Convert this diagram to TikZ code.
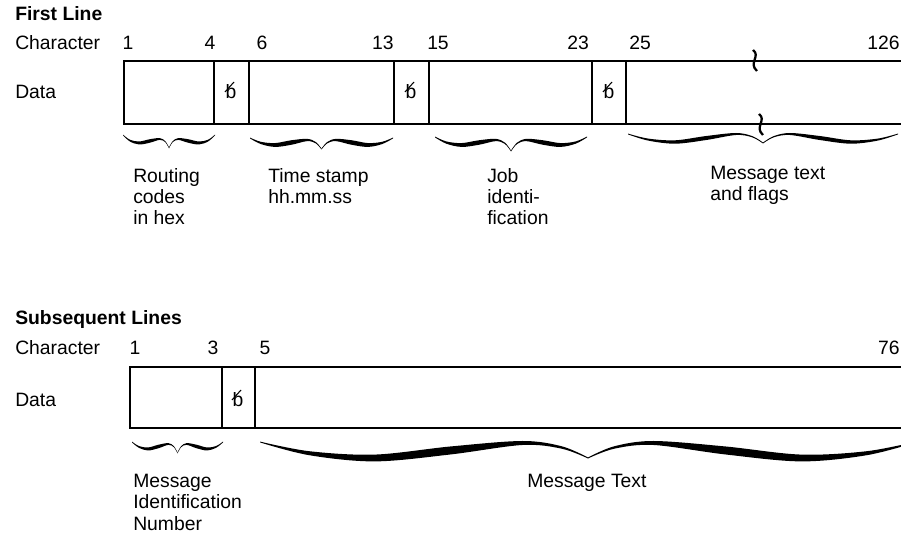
\documentclass[tikz,border=0pt]{standalone}
\usepackage{fontspec}
\setmainfont{Liberation Sans}
\usetikzlibrary{calc}
\newcommand\halfbr[8]{% x0 dir y0 hw D L H T
\fill plot[smooth,tension=0.55] coordinates {
 ({#1},{#3-0.4})
 ({#1+(#2)*0.15*(#4)},{#3+0.7*(#6)-0.25*(#8)})
 ({#1+(#2)*0.35*(#4)},{#3+(#6)-0.425*(#8)})
 ({#1+(#2)*0.58*(#4)},{#3+0.5*(#6)+0.5*(#7)-0.5*(#8)})
 ({#1+(#2)*0.8*(#4)},{#3+(#7)-0.25*(#8)})
 ({#1+(#2)*0.92*(#4)},{#3+(#7)+0.3*((#5)-(#7))-0.15*(#8)})
 ({#1+(#2)*(#4)},{#3+(#5)-0.5})}
 -- plot[smooth,tension=0.55] coordinates {
 ({#1+(#2)*(#4)},{#3+(#5)+0.5})
 ({#1+(#2)*0.92*(#4)},{#3+(#7)+0.3*((#5)-(#7))+0.15*(#8)})
 ({#1+(#2)*0.8*(#4)},{#3+(#7)+0.25*(#8)})
 ({#1+(#2)*0.58*(#4)},{#3+0.5*(#6)+0.5*(#7)+0.5*(#8)})
 ({#1+(#2)*0.35*(#4)},{#3+(#6)+0.425*(#8)})
 ({#1+(#2)*0.15*(#4)},{#3+0.7*(#6)+0.25*(#8)})
 ({#1},{#3+0.4})} -- cycle;}
\newcommand\mybrace[7]{% x1 x2 y D L H T
 \pgfmathsetmacro\brhw{((#2)-(#1))/2}%
 \halfbr{#1}{1}{#3}{\brhw}{#4}{#5}{#6}{#7}%
 \halfbr{#2}{-1}{#3}{\brhw}{#4}{#5}{#6}{#7}}
\tikzset{
 lbl/.style={font=\fontsize{14.5}{16}\selectfont, inner sep=0pt},
 head/.style={font=\fontsize{14.5}{16}\selectfont\bfseries, inner sep=0pt},
 para/.style={lbl, align=left, anchor=north west},
 outer/.style={line width=1.9pt},
 divider/.style={line width=1.2pt},
 slash/.style={line width=0.8pt},
 breakmark/.style={line width=1.7pt},
}
\begin{document}
\begin{tikzpicture}[x=0.75pt,y=-0.75pt]
\useasboundingbox (0,0) rectangle (901,541);
\clip (0,0) rectangle (901,541);
\fill[white] (0,0) rectangle (901,541);

% ---------- First line ----------
\node[head,anchor=west] (fl) at (15,14) {First Line};
\node[lbl,anchor=west] (ch1) at (15,43) {Character};
\node[lbl,anchor=west] (da1) at (15,92) {Data};
\node[lbl] (t1) at (128,43) {1};
\node[lbl] (t4) at (210,43) {4};
\node[lbl] (t6) at (262,43) {6};
\node[lbl] (t13) at (383,43) {13};
\node[lbl] (t15) at (438,43) {15};
\node[lbl] (t23) at (578,43) {23};
\node[lbl] (t25) at (640,43) {25};
\node[lbl,anchor=east] (t126) at (900,43) {126};

\draw[outer] (910,61) -- (124,61) -- (124,124) -- (910,124);
\foreach \x in {214,249,394,429,592,626} \draw[divider] (\x,61) -- (\x,124);

\node[lbl] (b1) at (231,92) {b};
\node[lbl] (b2) at (411,92) {b};
\node[lbl] (b3) at (609,92) {b};
\foreach \b in {b1,b2,b3} \draw[slash] ($(\b.center)+(3,-10)$) -- ($(\b.center)+(-6,0)$);

\draw[breakmark] (753,50) .. controls (761,56) and (748,63) .. (757,71);
\draw[breakmark] (759,114) .. controls (767,120) and (754,127) .. (763,135);

\mybrace{123}{215}{135}{13}{8}{4}{3.5}
\mybrace{250}{393}{138}{11}{7}{2}{4.5}
\mybrace{435}{587}{137}{14}{8}{3}{4.5}
\mybrace{628}{898}{134}{9}{8}{0}{4}

\node[para] (routing) at (133,168) {Routing\\codes\\in hex};
\node[para] (time) at (268,168) {Time stamp\\hh.mm.ss};
\node[para] (job) at (487,168) {Job\\identi-\\fication};
\node[para] (msg1) at (710,166) {Message text\\and flags};

% ---------- Subsequent lines ----------
\node[head,anchor=west] (sl) at (15,320) {Subsequent Lines};
\node[lbl,anchor=west] (ch2) at (15,348) {Character};
\node[lbl,anchor=west] (da2) at (15,400) {Data};
\node[lbl] (s1) at (135,348) {1};
\node[lbl] (s3) at (213,348) {3};
\node[lbl] (s5) at (265,348) {5};
\node[lbl,anchor=east] (s76) at (900,348) {76};

\draw[outer] (910,367) -- (130,367) -- (130,428) -- (910,428);
\foreach \x in {222,255} \draw[divider] (\x,367) -- (\x,428);
\node[lbl] (b4) at (238,400) {b};
\draw[slash] ($(b4.center)+(3,-10)$) -- ($(b4.center)+(-6,0)$);

\mybrace{132}{223}{442}{11}{7}{2}{3.5}
\mybrace{260}{916}{442}{16}{16}{1}{8}

\node[para] (mid) at (133,474) {Message\\Identification\\Number};
\node[para] (mtext) at (527,474) {Message Text};
\end{tikzpicture}
\end{document}
